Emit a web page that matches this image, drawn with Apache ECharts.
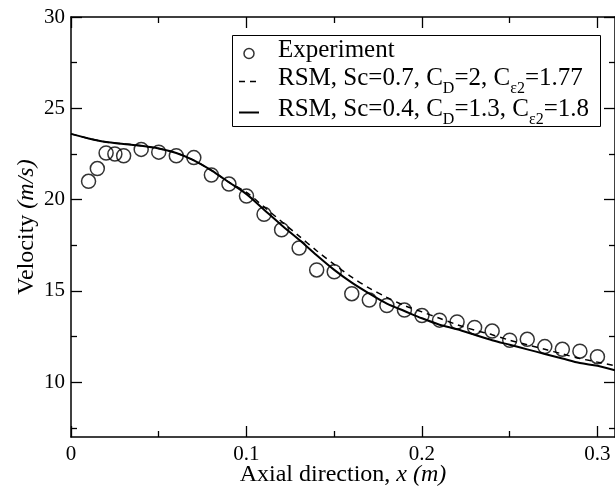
<!DOCTYPE html>
<html>
<head>
<meta charset="utf-8">
<script src="https://cdn.jsdelivr.net/npm/echarts@6/dist/echarts.min.js"></script>
<style>
  html, body { margin: 0; padding: 0; background: #fff; }
  #chart { width: 615px; height: 490px; }
</style>
</head>
<body>
<div id="chart"></div>
<script>
// Measured axial velocity profile
const expX = [0.01, 0.015, 0.02, 0.025, 0.03, 0.04, 0.05, 0.06, 0.07, 0.08, 0.09, 0.10,
              0.11, 0.12, 0.13, 0.14, 0.15, 0.16, 0.17, 0.18, 0.19, 0.20, 0.21, 0.22,
              0.23, 0.24, 0.25, 0.26, 0.27, 0.28, 0.29, 0.30];
const expV = [21.0, 21.7, 22.55, 22.5, 22.4, 22.75, 22.6, 22.4, 22.3, 21.35, 20.85, 20.2,
              19.2, 18.35, 17.35, 16.15, 16.05, 14.85, 14.5, 14.2, 13.95, 13.65, 13.4, 13.3,
              13.0, 12.8, 12.3, 12.35, 11.95, 11.8, 11.7, 11.4];

// RSM predictions on a common x grid
const modelX = [0, 0.01, 0.02, 0.03, 0.04, 0.05, 0.06, 0.07, 0.08, 0.09, 0.10, 0.11, 0.12,
                0.13, 0.14, 0.15, 0.16, 0.17, 0.18, 0.19, 0.20, 0.21, 0.22, 0.23, 0.24,
                0.25, 0.26, 0.27, 0.28, 0.29, 0.30, 0.31];
const rsmSc07 = [23.6, 23.35, 23.15, 23.05, 22.95, 22.8, 22.55, 22.15, 21.6, 20.95, 20.4,
                 19.6, 18.8, 18.0, 17.2, 16.45, 15.75, 15.15, 14.65, 14.2, 13.85, 13.5,
                 13.15, 12.85, 12.6, 12.3, 12.05, 11.8, 11.55, 11.3, 11.1, 10.9];
const rsmSc04 = [23.6, 23.35, 23.15, 23.05, 22.95, 22.8, 22.55, 22.15, 21.6, 20.95, 20.3,
                 19.45, 18.6, 17.8, 16.95, 16.15, 15.45, 14.85, 14.3, 13.9, 13.5, 13.15,
                 12.9, 12.6, 12.3, 12.05, 11.8, 11.55, 11.3, 11.05, 10.9, 10.65];

// Tick positions
const xMajor = [0, 0.1, 0.2, 0.3];
const xMinor = [0.05, 0.15, 0.25];
const yMajor = [10, 15, 20, 25, 30];
const yMinor = [7.5, 12.5, 17.5, 22.5, 27.5];

const seriesNames = ['Experiment', 'RSM, Sc=0.7, C_D=2, C_ε2=1.77', 'RSM, Sc=0.4, C_D=1.3, C_ε2=1.8'];

const FONT = 'Liberation Serif';
const pair = (xs, ys) => xs.map((x, i) => [x, ys[i]]);

// "C_D" style names -> rich text with subscripts
function richName(s) {
  return '{g|}' + s.split(/_([^=]+)/)
    .map((part, i) => (i % 2 ? '{sub|' + part + '}' : '{t|' + part + '}')).join('');
}

const gridBox = { left: 71, right: 0, top: 17, bottom: 53, containLabel: false, outerBoundsMode: 'none' };
const X_RANGE = { min: 0, max: 0.31 };
const Y_RANGE = { min: 7, max: 30 };
const tickLine = { color: '#000', width: 1.3 };

function axisDef(range, grid, pos, ticks, len, main) {
  return Object.assign({
    type: 'value', gridIndex: grid, position: pos,
    axisLine: main ? { show: true, onZero: false, lineStyle: { color: '#000', width: 1.5 } }
                   : { show: false, onZero: false },
    axisTick: { show: true, inside: true, length: len, customValues: ticks, lineStyle: tickLine },
    axisLabel: { show: false },
    splitLine: { show: false }
  }, range);
}

const titleStyle = {
  color: '#000', fontFamily: FONT, fontSize: 24,
  rich: { i: { color: '#000', fontFamily: FONT, fontSize: 24, fontStyle: 'italic' } }
};

const xBottom = axisDef(X_RANGE, 0, 'bottom', xMajor, 11, true);
xBottom.axisLabel = {
  show: true, customValues: xMajor, margin: 7, color: '#000',
  fontFamily: FONT, fontSize: 21, formatter: v => String(+v.toFixed(2))
};
xBottom.name = 'Axial direction, {i|x (m)}';
xBottom.nameLocation = 'middle';
xBottom.nameGap = 26;
xBottom.nameMoveOverlap = false;
xBottom.nameTextStyle = titleStyle;

const yLeft = axisDef(Y_RANGE, 0, 'left', yMajor, 11, true);
yLeft.axisLabel = {
  show: true, customValues: yMajor, margin: 6, color: '#000',
  fontFamily: FONT, fontSize: 21
};
yLeft.name = 'Velocity {i|(m/s)}';
yLeft.nameLocation = 'middle';
yLeft.nameGap = 32;
yLeft.nameMoveOverlap = false;
yLeft.nameTextStyle = titleStyle;

const option = {
  animation: false,
  backgroundColor: '#fff',
  grid: [Object.assign({}, gridBox), Object.assign({}, gridBox)],
  xAxis: [
    xBottom,
    axisDef(X_RANGE, 0, 'top', xMajor, 11, true),
    axisDef(X_RANGE, 1, 'bottom', xMinor, 6, false),
    axisDef(X_RANGE, 1, 'top', xMinor, 6, false)
  ],
  yAxis: [
    yLeft,
    axisDef(Y_RANGE, 0, 'right', yMajor, 11, true),
    axisDef(Y_RANGE, 1, 'left', yMinor, 6, false),
    axisDef(Y_RANGE, 1, 'right', yMinor, 6, false)
  ],
  legend: {
    orient: 'vertical',
    left: 238, top: 38,
    padding: 0,
    itemWidth: 20, itemHeight: 10, itemGap: 0,
    selectedMode: false,
    data: [
      { name: seriesNames[0], icon: 'circle',
        itemStyle: { color: 'rgba(0,0,0,0)', borderColor: '#000', borderWidth: 1.5 } },
      { name: seriesNames[1],
        itemStyle: { color: 'rgba(0,0,0,0)', borderWidth: 0, opacity: 0 },
        lineStyle: { color: '#000', width: 1.5, type: [6, 5] } },
      { name: seriesNames[2],
        itemStyle: { color: 'rgba(0,0,0,0)', borderWidth: 0, opacity: 0 },
        lineStyle: { color: '#000', width: 2 } }
    ],
    formatter: richName,
    textStyle: {
      color: '#000', fontFamily: FONT, fontSize: 25,
      rich: {
        g: { width: 14 },
        t: { color: '#000', fontFamily: FONT, fontSize: 25, verticalAlign: 'bottom', padding: [0, 0, 6, 0] },
        sub: { color: '#000', fontFamily: FONT, fontSize: 16, verticalAlign: 'bottom' }
      }
    }
  },
  graphic: [{
    type: 'rect', left: 230, top: 33, z: 10, silent: true,
    shape: { width: 368, height: 91 },
    style: { fill: null, stroke: '#000', lineWidth: 1 }
  }],
  series: [
    {
      name: seriesNames[0], type: 'scatter', xAxisIndex: 0, yAxisIndex: 0,
      data: pair(expX, expV), symbol: 'circle', symbolSize: 14,
      itemStyle: { color: 'rgba(0,0,0,0)', borderColor: '#000', borderWidth: 1.5 },
      z: 3
    },
    {
      name: seriesNames[1], type: 'line', xAxisIndex: 0, yAxisIndex: 0,
      data: pair(modelX, rsmSc07), symbol: 'none', smooth: 0.3, color: '#000',
      lineStyle: { color: '#000', width: 1.5, type: [6, 5] }
    },
    {
      name: seriesNames[2], type: 'line', xAxisIndex: 0, yAxisIndex: 0,
      data: pair(modelX, rsmSc04), symbol: 'none', smooth: 0.3, color: '#000',
      lineStyle: { color: '#000', width: 2 }
    }
  ]
};

const chart = echarts.init(document.getElementById('chart'), null, { renderer: 'canvas' });
chart.setOption(option);
</script>
</body>
</html>
